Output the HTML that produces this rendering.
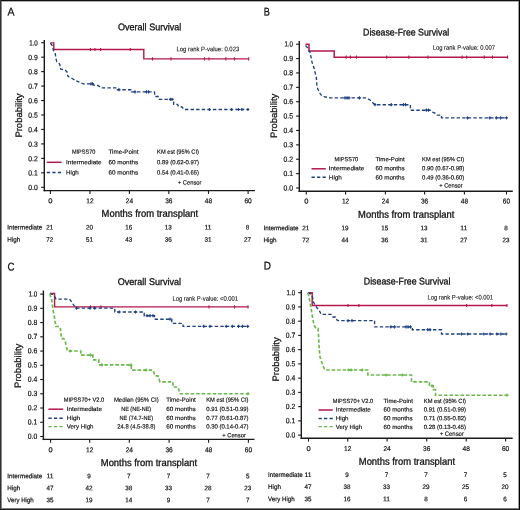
<!DOCTYPE html>
<html><head><meta charset="utf-8"><style>
html,body{margin:0;padding:0;background:#fff;}
svg{display:block;will-change:transform;font-family:"Liberation Sans",sans-serif;}
</style></head><body>
<svg width="520" height="510" viewBox="0 0 520 510">
<rect x="0" y="0" width="520" height="510" fill="#fff"/>
<text x="7.50" y="15.50" font-size="11.2" textLength="7.00" lengthAdjust="spacingAndGlyphs" fill="#111" stroke="#111" stroke-width="0.25" transform="rotate(0.05 7.50 15.50)">A</text>
<text x="118.00" y="30.25" font-size="9.7" textLength="63.30" lengthAdjust="spacingAndGlyphs" fill="#111" stroke="#111" stroke-width="0.3" transform="rotate(0.05 118.00 30.25)">Overall Survival</text>
<text x="176.50" y="51.25" font-size="6.6" textLength="62.70" lengthAdjust="spacingAndGlyphs" fill="#111" stroke="#111" stroke-width="0.1" transform="rotate(0.05 176.50 51.25)">Log rank P-value: 0.023</text>
<line x1="44.30" y1="40.00" x2="44.30" y2="191.30" stroke="#1a1a1a" stroke-width="1.4"/>
<line x1="43.60" y1="190.60" x2="255.00" y2="190.60" stroke="#1a1a1a" stroke-width="1.4"/>
<line x1="41.10" y1="42.70" x2="44.30" y2="42.70" stroke="#1a1a1a" stroke-width="1.1"/>
<text x="29.20" y="45.50" font-size="7.5" textLength="8.60" lengthAdjust="spacingAndGlyphs" fill="#111" stroke="#111" stroke-width="0.2" transform="rotate(0.05 29.20 45.50)">1.0</text>
<line x1="41.10" y1="57.16" x2="44.30" y2="57.16" stroke="#1a1a1a" stroke-width="1.1"/>
<text x="28.30" y="60.00" font-size="7.5" textLength="9.50" lengthAdjust="spacingAndGlyphs" fill="#111" stroke="#111" stroke-width="0.2" transform="rotate(0.05 28.30 60.00)">0.9</text>
<line x1="41.10" y1="71.62" x2="44.30" y2="71.62" stroke="#1a1a1a" stroke-width="1.1"/>
<text x="28.30" y="74.25" font-size="7.5" textLength="9.50" lengthAdjust="spacingAndGlyphs" fill="#111" stroke="#111" stroke-width="0.2" transform="rotate(0.05 28.30 74.25)">0.8</text>
<line x1="41.10" y1="86.08" x2="44.30" y2="86.08" stroke="#1a1a1a" stroke-width="1.1"/>
<text x="28.30" y="88.75" font-size="7.5" textLength="9.50" lengthAdjust="spacingAndGlyphs" fill="#111" stroke="#111" stroke-width="0.2" transform="rotate(0.05 28.30 88.75)">0.7</text>
<line x1="41.10" y1="100.54" x2="44.30" y2="100.54" stroke="#1a1a1a" stroke-width="1.1"/>
<text x="28.30" y="103.25" font-size="7.5" textLength="9.50" lengthAdjust="spacingAndGlyphs" fill="#111" stroke="#111" stroke-width="0.2" transform="rotate(0.05 28.30 103.25)">0.6</text>
<line x1="41.10" y1="115.00" x2="44.30" y2="115.00" stroke="#1a1a1a" stroke-width="1.1"/>
<text x="28.30" y="117.75" font-size="7.5" textLength="9.50" lengthAdjust="spacingAndGlyphs" fill="#111" stroke="#111" stroke-width="0.2" transform="rotate(0.05 28.30 117.75)">0.5</text>
<line x1="41.10" y1="129.46" x2="44.30" y2="129.46" stroke="#1a1a1a" stroke-width="1.1"/>
<text x="28.30" y="132.25" font-size="7.5" textLength="9.50" lengthAdjust="spacingAndGlyphs" fill="#111" stroke="#111" stroke-width="0.2" transform="rotate(0.05 28.30 132.25)">0.4</text>
<line x1="41.10" y1="143.92" x2="44.30" y2="143.92" stroke="#1a1a1a" stroke-width="1.1"/>
<text x="28.30" y="146.75" font-size="7.5" textLength="9.50" lengthAdjust="spacingAndGlyphs" fill="#111" stroke="#111" stroke-width="0.2" transform="rotate(0.05 28.30 146.75)">0.3</text>
<line x1="41.10" y1="158.38" x2="44.30" y2="158.38" stroke="#1a1a1a" stroke-width="1.1"/>
<text x="28.30" y="161.25" font-size="7.5" textLength="9.50" lengthAdjust="spacingAndGlyphs" fill="#111" stroke="#111" stroke-width="0.2" transform="rotate(0.05 28.30 161.25)">0.2</text>
<line x1="41.10" y1="172.84" x2="44.30" y2="172.84" stroke="#1a1a1a" stroke-width="1.1"/>
<text x="28.30" y="175.50" font-size="7.5" textLength="9.50" lengthAdjust="spacingAndGlyphs" fill="#111" stroke="#111" stroke-width="0.2" transform="rotate(0.05 28.30 175.50)">0.1</text>
<line x1="41.10" y1="187.30" x2="44.30" y2="187.30" stroke="#1a1a1a" stroke-width="1.1"/>
<text x="28.30" y="190.00" font-size="7.5" textLength="9.50" lengthAdjust="spacingAndGlyphs" fill="#111" stroke="#111" stroke-width="0.2" transform="rotate(0.05 28.30 190.00)">0.0</text>
<line x1="50.40" y1="190.60" x2="50.40" y2="193.90" stroke="#1a1a1a" stroke-width="1.1"/>
<text x="48.30" y="203.25" font-size="7.0" textLength="4.20" lengthAdjust="spacingAndGlyphs" fill="#111" stroke="#111" stroke-width="0.2" transform="rotate(0.05 48.30 203.25)">0</text>
<line x1="90.00" y1="190.60" x2="90.00" y2="193.90" stroke="#1a1a1a" stroke-width="1.1"/>
<text x="86.35" y="203.25" font-size="7.0" textLength="7.30" lengthAdjust="spacingAndGlyphs" fill="#111" stroke="#111" stroke-width="0.2" transform="rotate(0.05 86.35 203.25)">12</text>
<line x1="129.40" y1="190.60" x2="129.40" y2="193.90" stroke="#1a1a1a" stroke-width="1.1"/>
<text x="125.75" y="203.25" font-size="7.0" textLength="7.30" lengthAdjust="spacingAndGlyphs" fill="#111" stroke="#111" stroke-width="0.2" transform="rotate(0.05 125.75 203.25)">24</text>
<line x1="168.80" y1="190.60" x2="168.80" y2="193.90" stroke="#1a1a1a" stroke-width="1.1"/>
<text x="165.15" y="203.25" font-size="7.0" textLength="7.30" lengthAdjust="spacingAndGlyphs" fill="#111" stroke="#111" stroke-width="0.2" transform="rotate(0.05 165.15 203.25)">36</text>
<line x1="208.50" y1="190.60" x2="208.50" y2="193.90" stroke="#1a1a1a" stroke-width="1.1"/>
<text x="204.85" y="203.25" font-size="7.0" textLength="7.30" lengthAdjust="spacingAndGlyphs" fill="#111" stroke="#111" stroke-width="0.2" transform="rotate(0.05 204.85 203.25)">48</text>
<line x1="248.10" y1="190.60" x2="248.10" y2="193.90" stroke="#1a1a1a" stroke-width="1.1"/>
<text x="244.45" y="203.25" font-size="7.0" textLength="7.30" lengthAdjust="spacingAndGlyphs" fill="#111" stroke="#111" stroke-width="0.2" transform="rotate(0.05 244.45 203.25)">60</text>
<text x="0" y="0" font-size="9.4" textLength="44.2" lengthAdjust="spacingAndGlyphs" fill="#111" stroke="#111" stroke-width="0.25" transform="translate(22.00,137.60) rotate(-89.95)">Probability</text>
<text x="101.60" y="216.75" font-size="10.0" textLength="96.50" lengthAdjust="spacingAndGlyphs" fill="#111" stroke="#111" stroke-width="0.3" transform="rotate(0.05 101.60 216.75)">Months from transplant</text>
<text x="7.30" y="229.50" font-size="6.6" textLength="35.00" lengthAdjust="spacingAndGlyphs" fill="#111" stroke="#111" stroke-width="0.2" transform="rotate(0.05 7.30 229.50)">Intermediate</text>
<text x="46.30" y="229.50" font-size="6.6" textLength="7.00" lengthAdjust="spacingAndGlyphs" fill="#111" stroke="#111" stroke-width="0.2" transform="rotate(0.05 46.30 229.50)">21</text>
<text x="85.90" y="229.50" font-size="6.6" textLength="7.00" lengthAdjust="spacingAndGlyphs" fill="#111" stroke="#111" stroke-width="0.2" transform="rotate(0.05 85.90 229.50)">20</text>
<text x="125.30" y="229.50" font-size="6.6" textLength="7.00" lengthAdjust="spacingAndGlyphs" fill="#111" stroke="#111" stroke-width="0.2" transform="rotate(0.05 125.30 229.50)">16</text>
<text x="164.70" y="229.50" font-size="6.6" textLength="7.00" lengthAdjust="spacingAndGlyphs" fill="#111" stroke="#111" stroke-width="0.2" transform="rotate(0.05 164.70 229.50)">13</text>
<text x="204.40" y="229.50" font-size="6.6" textLength="7.00" lengthAdjust="spacingAndGlyphs" fill="#111" stroke="#111" stroke-width="0.2" transform="rotate(0.05 204.40 229.50)">11</text>
<text x="245.75" y="229.50" font-size="6.6" textLength="3.50" lengthAdjust="spacingAndGlyphs" fill="#111" stroke="#111" stroke-width="0.2" transform="rotate(0.05 245.75 229.50)">8</text>
<text x="7.30" y="241.75" font-size="6.6" textLength="12.90" lengthAdjust="spacingAndGlyphs" fill="#111" stroke="#111" stroke-width="0.2" transform="rotate(0.05 7.30 241.75)">High</text>
<text x="46.30" y="241.75" font-size="6.6" textLength="7.00" lengthAdjust="spacingAndGlyphs" fill="#111" stroke="#111" stroke-width="0.2" transform="rotate(0.05 46.30 241.75)">72</text>
<text x="85.90" y="241.75" font-size="6.6" textLength="7.00" lengthAdjust="spacingAndGlyphs" fill="#111" stroke="#111" stroke-width="0.2" transform="rotate(0.05 85.90 241.75)">51</text>
<text x="125.30" y="241.75" font-size="6.6" textLength="7.00" lengthAdjust="spacingAndGlyphs" fill="#111" stroke="#111" stroke-width="0.2" transform="rotate(0.05 125.30 241.75)">43</text>
<text x="164.70" y="241.75" font-size="6.6" textLength="7.00" lengthAdjust="spacingAndGlyphs" fill="#111" stroke="#111" stroke-width="0.2" transform="rotate(0.05 164.70 241.75)">36</text>
<text x="204.40" y="241.75" font-size="6.6" textLength="7.00" lengthAdjust="spacingAndGlyphs" fill="#111" stroke="#111" stroke-width="0.2" transform="rotate(0.05 204.40 241.75)">31</text>
<text x="244.00" y="241.75" font-size="6.6" textLength="7.00" lengthAdjust="spacingAndGlyphs" fill="#111" stroke="#111" stroke-width="0.2" transform="rotate(0.05 244.00 241.75)">27</text>
<text x="71.90" y="153.75" font-size="6.0" textLength="23.60" lengthAdjust="spacingAndGlyphs" fill="#111" stroke="#111" stroke-width="0.16" transform="rotate(0.05 71.90 153.75)">MIPSS70</text>
<text x="108.50" y="153.75" font-size="6.0" textLength="30.00" lengthAdjust="spacingAndGlyphs" fill="#111" stroke="#111" stroke-width="0.16" transform="rotate(0.05 108.50 153.75)">Time-Point</text>
<text x="157.10" y="153.75" font-size="6.0" textLength="41.90" lengthAdjust="spacingAndGlyphs" fill="#111" stroke="#111" stroke-width="0.16" transform="rotate(0.05 157.10 153.75)">KM est (95% CI)</text>
<text x="66.10" y="164.25" font-size="6.0" textLength="35.50" lengthAdjust="spacingAndGlyphs" fill="#111" stroke="#111" stroke-width="0.16" transform="rotate(0.05 66.10 164.25)">Intermediate</text>
<text x="108.50" y="164.25" font-size="6.0" textLength="29.60" lengthAdjust="spacingAndGlyphs" fill="#111" stroke="#111" stroke-width="0.16" transform="rotate(0.05 108.50 164.25)">60 months</text>
<text x="157.10" y="164.25" font-size="6.0" textLength="41.90" lengthAdjust="spacingAndGlyphs" fill="#111" stroke="#111" stroke-width="0.16" transform="rotate(0.05 157.10 164.25)">0.89 (0.62-0.97)</text>
<text x="66.10" y="174.50" font-size="6.0" textLength="12.70" lengthAdjust="spacingAndGlyphs" fill="#111" stroke="#111" stroke-width="0.16" transform="rotate(0.05 66.10 174.50)">High</text>
<text x="108.50" y="174.50" font-size="6.0" textLength="29.60" lengthAdjust="spacingAndGlyphs" fill="#111" stroke="#111" stroke-width="0.16" transform="rotate(0.05 108.50 174.50)">60 months</text>
<text x="157.10" y="174.50" font-size="6.0" textLength="41.90" lengthAdjust="spacingAndGlyphs" fill="#111" stroke="#111" stroke-width="0.16" transform="rotate(0.05 157.10 174.50)">0.54 (0.41-0.65)</text>
<text x="177.80" y="184.50" font-size="6.0" textLength="23.70" lengthAdjust="spacingAndGlyphs" fill="#111" stroke="#111" stroke-width="0.16" transform="rotate(0.05 177.80 184.50)">+ Censor</text>
<line x1="46.80" y1="162.30" x2="61.60" y2="162.30" stroke="#b3184a" stroke-width="1.5"/>
<path d="M46.8,172.5H61.6" stroke="#1f4080" stroke-width="1.35" stroke-dasharray="3.3 2.2" fill="none"/>
<path d="M50.3,42.9H53.8V49.5H143.8V58.9H248.7" fill="none" stroke="#b3184a" stroke-width="1.4"/>
<path d="M90.50,47.90v3.2M94.90,47.90v3.2M100.60,47.90v3.2M130.30,47.90v3.2M152.50,57.30v3.2M171.00,57.30v3.2M204.50,57.30v3.2M209.00,57.30v3.2M225.80,57.30v3.2M234.40,57.30v3.2M248.70,57.30v3.2" stroke="#b3184a" stroke-width="1.1" fill="none"/>
<path d="M50.3,43.3L52,45L53,49L54.1,52L55.2,53.6L56.2,59.6L56.8,61.7L59.5,63.9L60,65V68.2L61.1,69.3H63.8L65.4,70.3L67,72L67.6,73V75.7L68.6,76.8L71.9,78.4L73,79L75.6,80.6L79.4,82.2L83.2,83.8H93.5L94,85.3L98,85.5L101,87.9H116.5V89.7H131.5V91.9H154.4L155,96.5H158L159,99.4H173.7V104.3H177.5L178.5,106.5L182,107L184,109.5H248.7" fill="none" stroke="#1f4080" stroke-width="1.35" stroke-dasharray="3.4 2.2"/>
<path d="M89.60,83.80h2.8M91.10,83.80h2.8M117.60,89.70h2.8M133.60,91.90h2.8M145.10,91.90h2.8M147.10,91.90h2.8M168.90,99.40h2.8M170.60,99.40h2.8M208.00,109.50h2.8M230.20,109.50h2.8M237.20,109.50h2.8M240.40,109.50h2.8M246.50,109.50h2.8" stroke="#1f4080" stroke-width="1.22" fill="none"/>
<path d="M91.00,82.20v3.2M92.50,82.20v3.2M119.00,88.10v3.2M135.00,90.30v3.2M146.50,90.30v3.2M148.50,90.30v3.2M170.30,97.80v3.2M172.00,97.80v3.2M209.40,107.90v3.2M231.60,107.90v3.2M238.60,107.90v3.2M241.80,107.90v3.2M247.90,107.90v3.2" stroke="#1f4080" stroke-width="1.1" fill="none"/>
<text x="263.80" y="15.50" font-size="11.2" textLength="6.10" lengthAdjust="spacingAndGlyphs" fill="#111" stroke="#111" stroke-width="0.25" transform="rotate(0.05 263.80 15.50)">B</text>
<text x="363.10" y="35.50" font-size="9.7" textLength="86.10" lengthAdjust="spacingAndGlyphs" fill="#111" stroke="#111" stroke-width="0.3" transform="rotate(0.05 363.10 35.50)">Disease-Free Survival</text>
<text x="432.70" y="49.75" font-size="6.6" textLength="62.30" lengthAdjust="spacingAndGlyphs" fill="#111" stroke="#111" stroke-width="0.1" transform="rotate(0.05 432.70 49.75)">Log rank P-value: 0.007</text>
<line x1="299.30" y1="41.00" x2="299.30" y2="191.90" stroke="#1a1a1a" stroke-width="1.4"/>
<line x1="298.60" y1="191.20" x2="512.80" y2="191.20" stroke="#1a1a1a" stroke-width="1.4"/>
<line x1="296.10" y1="44.20" x2="299.30" y2="44.20" stroke="#1a1a1a" stroke-width="1.1"/>
<text x="284.40" y="46.50" font-size="7.5" textLength="8.60" lengthAdjust="spacingAndGlyphs" fill="#111" stroke="#111" stroke-width="0.2" transform="rotate(0.05 284.40 46.50)">1.0</text>
<line x1="296.10" y1="58.58" x2="299.30" y2="58.58" stroke="#1a1a1a" stroke-width="1.1"/>
<text x="283.50" y="61.00" font-size="7.5" textLength="9.50" lengthAdjust="spacingAndGlyphs" fill="#111" stroke="#111" stroke-width="0.2" transform="rotate(0.05 283.50 61.00)">0.9</text>
<line x1="296.10" y1="72.96" x2="299.30" y2="72.96" stroke="#1a1a1a" stroke-width="1.1"/>
<text x="283.50" y="75.25" font-size="7.5" textLength="9.50" lengthAdjust="spacingAndGlyphs" fill="#111" stroke="#111" stroke-width="0.2" transform="rotate(0.05 283.50 75.25)">0.8</text>
<line x1="296.10" y1="87.34" x2="299.30" y2="87.34" stroke="#1a1a1a" stroke-width="1.1"/>
<text x="283.50" y="89.75" font-size="7.5" textLength="9.50" lengthAdjust="spacingAndGlyphs" fill="#111" stroke="#111" stroke-width="0.2" transform="rotate(0.05 283.50 89.75)">0.7</text>
<line x1="296.10" y1="101.72" x2="299.30" y2="101.72" stroke="#1a1a1a" stroke-width="1.1"/>
<text x="283.50" y="104.00" font-size="7.5" textLength="9.50" lengthAdjust="spacingAndGlyphs" fill="#111" stroke="#111" stroke-width="0.2" transform="rotate(0.05 283.50 104.00)">0.6</text>
<line x1="296.10" y1="116.10" x2="299.30" y2="116.10" stroke="#1a1a1a" stroke-width="1.1"/>
<text x="283.50" y="118.50" font-size="7.5" textLength="9.50" lengthAdjust="spacingAndGlyphs" fill="#111" stroke="#111" stroke-width="0.2" transform="rotate(0.05 283.50 118.50)">0.5</text>
<line x1="296.10" y1="130.48" x2="299.30" y2="130.48" stroke="#1a1a1a" stroke-width="1.1"/>
<text x="283.50" y="133.00" font-size="7.5" textLength="9.50" lengthAdjust="spacingAndGlyphs" fill="#111" stroke="#111" stroke-width="0.2" transform="rotate(0.05 283.50 133.00)">0.4</text>
<line x1="296.10" y1="144.86" x2="299.30" y2="144.86" stroke="#1a1a1a" stroke-width="1.1"/>
<text x="283.50" y="147.25" font-size="7.5" textLength="9.50" lengthAdjust="spacingAndGlyphs" fill="#111" stroke="#111" stroke-width="0.2" transform="rotate(0.05 283.50 147.25)">0.3</text>
<line x1="296.10" y1="159.24" x2="299.30" y2="159.24" stroke="#1a1a1a" stroke-width="1.1"/>
<text x="283.50" y="161.75" font-size="7.5" textLength="9.50" lengthAdjust="spacingAndGlyphs" fill="#111" stroke="#111" stroke-width="0.2" transform="rotate(0.05 283.50 161.75)">0.2</text>
<line x1="296.10" y1="173.62" x2="299.30" y2="173.62" stroke="#1a1a1a" stroke-width="1.1"/>
<text x="283.50" y="176.00" font-size="7.5" textLength="9.50" lengthAdjust="spacingAndGlyphs" fill="#111" stroke="#111" stroke-width="0.2" transform="rotate(0.05 283.50 176.00)">0.1</text>
<line x1="296.10" y1="188.00" x2="299.30" y2="188.00" stroke="#1a1a1a" stroke-width="1.1"/>
<text x="283.50" y="190.50" font-size="7.5" textLength="9.50" lengthAdjust="spacingAndGlyphs" fill="#111" stroke="#111" stroke-width="0.2" transform="rotate(0.05 283.50 190.50)">0.0</text>
<line x1="306.30" y1="191.20" x2="306.30" y2="194.50" stroke="#1a1a1a" stroke-width="1.1"/>
<text x="304.20" y="203.50" font-size="7.0" textLength="4.20" lengthAdjust="spacingAndGlyphs" fill="#111" stroke="#111" stroke-width="0.2" transform="rotate(0.05 304.20 203.50)">0</text>
<line x1="345.60" y1="191.20" x2="345.60" y2="194.50" stroke="#1a1a1a" stroke-width="1.1"/>
<text x="341.95" y="203.50" font-size="7.0" textLength="7.30" lengthAdjust="spacingAndGlyphs" fill="#111" stroke="#111" stroke-width="0.2" transform="rotate(0.05 341.95 203.50)">12</text>
<line x1="385.40" y1="191.20" x2="385.40" y2="194.50" stroke="#1a1a1a" stroke-width="1.1"/>
<text x="381.75" y="203.50" font-size="7.0" textLength="7.30" lengthAdjust="spacingAndGlyphs" fill="#111" stroke="#111" stroke-width="0.2" transform="rotate(0.05 381.75 203.50)">24</text>
<line x1="424.60" y1="191.20" x2="424.60" y2="194.50" stroke="#1a1a1a" stroke-width="1.1"/>
<text x="420.95" y="203.50" font-size="7.0" textLength="7.30" lengthAdjust="spacingAndGlyphs" fill="#111" stroke="#111" stroke-width="0.2" transform="rotate(0.05 420.95 203.50)">36</text>
<line x1="464.40" y1="191.20" x2="464.40" y2="194.50" stroke="#1a1a1a" stroke-width="1.1"/>
<text x="460.75" y="203.50" font-size="7.0" textLength="7.30" lengthAdjust="spacingAndGlyphs" fill="#111" stroke="#111" stroke-width="0.2" transform="rotate(0.05 460.75 203.50)">48</text>
<line x1="506.50" y1="191.20" x2="506.50" y2="194.50" stroke="#1a1a1a" stroke-width="1.1"/>
<text x="502.85" y="203.50" font-size="7.0" textLength="7.30" lengthAdjust="spacingAndGlyphs" fill="#111" stroke="#111" stroke-width="0.2" transform="rotate(0.05 502.85 203.50)">60</text>
<text x="0" y="0" font-size="9.4" textLength="44.2" lengthAdjust="spacingAndGlyphs" fill="#111" stroke="#111" stroke-width="0.25" transform="translate(277.00,137.90) rotate(-89.95)">Probability</text>
<text x="358.10" y="217.75" font-size="10.0" textLength="96.20" lengthAdjust="spacingAndGlyphs" fill="#111" stroke="#111" stroke-width="0.3" transform="rotate(0.05 358.10 217.75)">Months from transplant</text>
<text x="263.50" y="230.25" font-size="6.6" textLength="35.00" lengthAdjust="spacingAndGlyphs" fill="#111" stroke="#111" stroke-width="0.2" transform="rotate(0.05 263.50 230.25)">Intermediate</text>
<text x="302.20" y="230.25" font-size="6.6" textLength="7.00" lengthAdjust="spacingAndGlyphs" fill="#111" stroke="#111" stroke-width="0.2" transform="rotate(0.05 302.20 230.25)">21</text>
<text x="341.50" y="230.25" font-size="6.6" textLength="7.00" lengthAdjust="spacingAndGlyphs" fill="#111" stroke="#111" stroke-width="0.2" transform="rotate(0.05 341.50 230.25)">19</text>
<text x="381.30" y="230.25" font-size="6.6" textLength="7.00" lengthAdjust="spacingAndGlyphs" fill="#111" stroke="#111" stroke-width="0.2" transform="rotate(0.05 381.30 230.25)">15</text>
<text x="420.50" y="230.25" font-size="6.6" textLength="7.00" lengthAdjust="spacingAndGlyphs" fill="#111" stroke="#111" stroke-width="0.2" transform="rotate(0.05 420.50 230.25)">13</text>
<text x="460.30" y="230.25" font-size="6.6" textLength="7.00" lengthAdjust="spacingAndGlyphs" fill="#111" stroke="#111" stroke-width="0.2" transform="rotate(0.05 460.30 230.25)">11</text>
<text x="504.15" y="230.25" font-size="6.6" textLength="3.50" lengthAdjust="spacingAndGlyphs" fill="#111" stroke="#111" stroke-width="0.2" transform="rotate(0.05 504.15 230.25)">8</text>
<text x="263.50" y="242.25" font-size="6.6" textLength="13.00" lengthAdjust="spacingAndGlyphs" fill="#111" stroke="#111" stroke-width="0.2" transform="rotate(0.05 263.50 242.25)">High</text>
<text x="302.20" y="242.25" font-size="6.6" textLength="7.00" lengthAdjust="spacingAndGlyphs" fill="#111" stroke="#111" stroke-width="0.2" transform="rotate(0.05 302.20 242.25)">72</text>
<text x="341.50" y="242.25" font-size="6.6" textLength="7.00" lengthAdjust="spacingAndGlyphs" fill="#111" stroke="#111" stroke-width="0.2" transform="rotate(0.05 341.50 242.25)">44</text>
<text x="381.30" y="242.25" font-size="6.6" textLength="7.00" lengthAdjust="spacingAndGlyphs" fill="#111" stroke="#111" stroke-width="0.2" transform="rotate(0.05 381.30 242.25)">36</text>
<text x="420.50" y="242.25" font-size="6.6" textLength="7.00" lengthAdjust="spacingAndGlyphs" fill="#111" stroke="#111" stroke-width="0.2" transform="rotate(0.05 420.50 242.25)">31</text>
<text x="460.30" y="242.25" font-size="6.6" textLength="7.00" lengthAdjust="spacingAndGlyphs" fill="#111" stroke="#111" stroke-width="0.2" transform="rotate(0.05 460.30 242.25)">27</text>
<text x="502.40" y="242.25" font-size="6.6" textLength="7.00" lengthAdjust="spacingAndGlyphs" fill="#111" stroke="#111" stroke-width="0.2" transform="rotate(0.05 502.40 242.25)">23</text>
<text x="334.50" y="161.25" font-size="6.0" textLength="23.60" lengthAdjust="spacingAndGlyphs" fill="#111" stroke="#111" stroke-width="0.16" transform="rotate(0.05 334.50 161.25)">MIPSS70</text>
<text x="375.50" y="161.25" font-size="6.0" textLength="29.20" lengthAdjust="spacingAndGlyphs" fill="#111" stroke="#111" stroke-width="0.16" transform="rotate(0.05 375.50 161.25)">Time-Point</text>
<text x="422.10" y="161.25" font-size="6.0" textLength="42.20" lengthAdjust="spacingAndGlyphs" fill="#111" stroke="#111" stroke-width="0.16" transform="rotate(0.05 422.10 161.25)">KM est (95% CI)</text>
<text x="328.80" y="170.25" font-size="6.0" textLength="35.40" lengthAdjust="spacingAndGlyphs" fill="#111" stroke="#111" stroke-width="0.16" transform="rotate(0.05 328.80 170.25)">Intermediate</text>
<text x="375.50" y="170.25" font-size="6.0" textLength="29.20" lengthAdjust="spacingAndGlyphs" fill="#111" stroke="#111" stroke-width="0.16" transform="rotate(0.05 375.50 170.25)">60 months</text>
<text x="422.10" y="170.25" font-size="6.0" textLength="42.20" lengthAdjust="spacingAndGlyphs" fill="#111" stroke="#111" stroke-width="0.16" transform="rotate(0.05 422.10 170.25)">0.90 (0.67-0.98)</text>
<text x="328.80" y="179.50" font-size="6.0" textLength="13.10" lengthAdjust="spacingAndGlyphs" fill="#111" stroke="#111" stroke-width="0.16" transform="rotate(0.05 328.80 179.50)">High</text>
<text x="375.50" y="179.50" font-size="6.0" textLength="29.20" lengthAdjust="spacingAndGlyphs" fill="#111" stroke="#111" stroke-width="0.16" transform="rotate(0.05 375.50 179.50)">60 months</text>
<text x="422.10" y="179.50" font-size="6.0" textLength="42.20" lengthAdjust="spacingAndGlyphs" fill="#111" stroke="#111" stroke-width="0.16" transform="rotate(0.05 422.10 179.50)">0.49 (0.36-0.60)</text>
<text x="439.20" y="187.50" font-size="6.0" textLength="23.50" lengthAdjust="spacingAndGlyphs" fill="#111" stroke="#111" stroke-width="0.16" transform="rotate(0.05 439.20 187.50)">+ Censor</text>
<line x1="311.50" y1="168.80" x2="325.80" y2="168.80" stroke="#b3184a" stroke-width="1.5"/>
<path d="M311.5,177.2H325.8" stroke="#1f4080" stroke-width="1.35" stroke-dasharray="3.3 2.2" fill="none"/>
<path d="M305.5,44.2H309V50.9H334.2V57.2H508" fill="none" stroke="#b3184a" stroke-width="1.5"/>
<path d="M346.20,55.60v3.2M350.40,55.60v3.2M356.50,55.60v3.2M386.70,55.60v3.2M408.80,55.60v3.2M427.90,55.60v3.2M462.10,55.60v3.2M466.70,55.60v3.2M484.20,55.60v3.2M492.50,55.60v3.2M507.50,55.60v3.2" stroke="#b3184a" stroke-width="1.1" fill="none"/>
<path d="M305.5,45.5L308,48L309,51L310,52L312,62L314,68L316.4,78L317,87.3L320.4,94.2L323,96.5L330,97.8H366.2L370,100L373,103L375,104.7H410.4V110.2H430.3L432,112L435,113L437,115.1H441.5V117.8H507" fill="none" stroke="#1f4080" stroke-width="1.35" stroke-dasharray="3.4 2.2"/>
<path d="M343.60,97.80h2.8M345.60,97.80h2.8M347.60,97.80h2.8M358.10,97.80h2.8M373.60,104.70h2.8M389.90,104.70h2.8M402.10,104.70h2.8M404.10,104.70h2.8M425.00,110.20h2.8M427.10,110.20h2.8M466.10,117.80h2.8M488.40,117.80h2.8M494.90,117.80h2.8M499.20,117.80h2.8M505.10,117.80h2.8" stroke="#1f4080" stroke-width="1.22" fill="none"/>
<path d="M345.00,96.20v3.2M347.00,96.20v3.2M349.00,96.20v3.2M359.50,96.20v3.2M375.00,103.10v3.2M391.30,103.10v3.2M403.50,103.10v3.2M405.50,103.10v3.2M426.40,108.60v3.2M428.50,108.60v3.2M467.50,116.20v3.2M489.80,116.20v3.2M496.30,116.20v3.2M500.60,116.20v3.2M506.50,116.20v3.2" stroke="#1f4080" stroke-width="1.1" fill="none"/>
<text x="7.40" y="270.50" font-size="11.2" textLength="7.00" lengthAdjust="spacingAndGlyphs" fill="#111" stroke="#111" stroke-width="0.25" transform="rotate(0.05 7.40 270.50)">C</text>
<text x="117.70" y="285.00" font-size="9.7" textLength="63.40" lengthAdjust="spacingAndGlyphs" fill="#111" stroke="#111" stroke-width="0.3" transform="rotate(0.05 117.70 285.00)">Overall Survival</text>
<text x="172.40" y="300.75" font-size="6.6" textLength="65.70" lengthAdjust="spacingAndGlyphs" fill="#111" stroke="#111" stroke-width="0.1" transform="rotate(0.05 172.40 300.75)">Log rank P-value: &lt;0.001</text>
<line x1="43.40" y1="290.50" x2="43.40" y2="440.10" stroke="#1a1a1a" stroke-width="1.4"/>
<line x1="42.70" y1="439.40" x2="254.50" y2="439.40" stroke="#1a1a1a" stroke-width="1.4"/>
<line x1="40.20" y1="294.10" x2="43.40" y2="294.10" stroke="#1a1a1a" stroke-width="1.1"/>
<text x="28.70" y="296.50" font-size="7.5" textLength="8.60" lengthAdjust="spacingAndGlyphs" fill="#111" stroke="#111" stroke-width="0.2" transform="rotate(0.05 28.70 296.50)">1.0</text>
<line x1="40.20" y1="308.34" x2="43.40" y2="308.34" stroke="#1a1a1a" stroke-width="1.1"/>
<text x="27.80" y="310.75" font-size="7.5" textLength="9.50" lengthAdjust="spacingAndGlyphs" fill="#111" stroke="#111" stroke-width="0.2" transform="rotate(0.05 27.80 310.75)">0.9</text>
<line x1="40.20" y1="322.58" x2="43.40" y2="322.58" stroke="#1a1a1a" stroke-width="1.1"/>
<text x="27.80" y="325.00" font-size="7.5" textLength="9.50" lengthAdjust="spacingAndGlyphs" fill="#111" stroke="#111" stroke-width="0.2" transform="rotate(0.05 27.80 325.00)">0.8</text>
<line x1="40.20" y1="336.82" x2="43.40" y2="336.82" stroke="#1a1a1a" stroke-width="1.1"/>
<text x="27.80" y="339.00" font-size="7.5" textLength="9.50" lengthAdjust="spacingAndGlyphs" fill="#111" stroke="#111" stroke-width="0.2" transform="rotate(0.05 27.80 339.00)">0.7</text>
<line x1="40.20" y1="351.06" x2="43.40" y2="351.06" stroke="#1a1a1a" stroke-width="1.1"/>
<text x="27.80" y="353.25" font-size="7.5" textLength="9.50" lengthAdjust="spacingAndGlyphs" fill="#111" stroke="#111" stroke-width="0.2" transform="rotate(0.05 27.80 353.25)">0.6</text>
<line x1="40.20" y1="365.30" x2="43.40" y2="365.30" stroke="#1a1a1a" stroke-width="1.1"/>
<text x="27.80" y="367.50" font-size="7.5" textLength="9.50" lengthAdjust="spacingAndGlyphs" fill="#111" stroke="#111" stroke-width="0.2" transform="rotate(0.05 27.80 367.50)">0.5</text>
<line x1="40.20" y1="379.54" x2="43.40" y2="379.54" stroke="#1a1a1a" stroke-width="1.1"/>
<text x="27.80" y="381.75" font-size="7.5" textLength="9.50" lengthAdjust="spacingAndGlyphs" fill="#111" stroke="#111" stroke-width="0.2" transform="rotate(0.05 27.80 381.75)">0.4</text>
<line x1="40.20" y1="393.78" x2="43.40" y2="393.78" stroke="#1a1a1a" stroke-width="1.1"/>
<text x="27.80" y="396.00" font-size="7.5" textLength="9.50" lengthAdjust="spacingAndGlyphs" fill="#111" stroke="#111" stroke-width="0.2" transform="rotate(0.05 27.80 396.00)">0.3</text>
<line x1="40.20" y1="408.02" x2="43.40" y2="408.02" stroke="#1a1a1a" stroke-width="1.1"/>
<text x="27.80" y="410.25" font-size="7.5" textLength="9.50" lengthAdjust="spacingAndGlyphs" fill="#111" stroke="#111" stroke-width="0.2" transform="rotate(0.05 27.80 410.25)">0.2</text>
<line x1="40.20" y1="422.26" x2="43.40" y2="422.26" stroke="#1a1a1a" stroke-width="1.1"/>
<text x="27.80" y="424.50" font-size="7.5" textLength="9.50" lengthAdjust="spacingAndGlyphs" fill="#111" stroke="#111" stroke-width="0.2" transform="rotate(0.05 27.80 424.50)">0.1</text>
<line x1="40.20" y1="436.50" x2="43.40" y2="436.50" stroke="#1a1a1a" stroke-width="1.1"/>
<text x="27.80" y="438.75" font-size="7.5" textLength="9.50" lengthAdjust="spacingAndGlyphs" fill="#111" stroke="#111" stroke-width="0.2" transform="rotate(0.05 27.80 438.75)">0.0</text>
<line x1="50.60" y1="439.40" x2="50.60" y2="442.70" stroke="#1a1a1a" stroke-width="1.1"/>
<text x="48.50" y="452.25" font-size="7.0" textLength="4.20" lengthAdjust="spacingAndGlyphs" fill="#111" stroke="#111" stroke-width="0.2" transform="rotate(0.05 48.50 452.25)">0</text>
<line x1="89.70" y1="439.40" x2="89.70" y2="442.70" stroke="#1a1a1a" stroke-width="1.1"/>
<text x="86.05" y="452.25" font-size="7.0" textLength="7.30" lengthAdjust="spacingAndGlyphs" fill="#111" stroke="#111" stroke-width="0.2" transform="rotate(0.05 86.05 452.25)">12</text>
<line x1="129.30" y1="439.40" x2="129.30" y2="442.70" stroke="#1a1a1a" stroke-width="1.1"/>
<text x="125.65" y="452.25" font-size="7.0" textLength="7.30" lengthAdjust="spacingAndGlyphs" fill="#111" stroke="#111" stroke-width="0.2" transform="rotate(0.05 125.65 452.25)">24</text>
<line x1="169.10" y1="439.40" x2="169.10" y2="442.70" stroke="#1a1a1a" stroke-width="1.1"/>
<text x="165.45" y="452.25" font-size="7.0" textLength="7.30" lengthAdjust="spacingAndGlyphs" fill="#111" stroke="#111" stroke-width="0.2" transform="rotate(0.05 165.45 452.25)">36</text>
<line x1="208.60" y1="439.40" x2="208.60" y2="442.70" stroke="#1a1a1a" stroke-width="1.1"/>
<text x="204.95" y="452.25" font-size="7.0" textLength="7.30" lengthAdjust="spacingAndGlyphs" fill="#111" stroke="#111" stroke-width="0.2" transform="rotate(0.05 204.95 452.25)">48</text>
<line x1="248.40" y1="439.40" x2="248.40" y2="442.70" stroke="#1a1a1a" stroke-width="1.1"/>
<text x="244.75" y="452.25" font-size="7.0" textLength="7.30" lengthAdjust="spacingAndGlyphs" fill="#111" stroke="#111" stroke-width="0.2" transform="rotate(0.05 244.75 452.25)">60</text>
<text x="0" y="0" font-size="9.4" textLength="44.2" lengthAdjust="spacingAndGlyphs" fill="#111" stroke="#111" stroke-width="0.25" transform="translate(21.10,387.90) rotate(-89.95)">Probability</text>
<text x="100.80" y="466.00" font-size="10.0" textLength="96.20" lengthAdjust="spacingAndGlyphs" fill="#111" stroke="#111" stroke-width="0.3" transform="rotate(0.05 100.80 466.00)">Months from transplant</text>
<text x="7.30" y="478.25" font-size="6.6" textLength="35.00" lengthAdjust="spacingAndGlyphs" fill="#111" stroke="#111" stroke-width="0.2" transform="rotate(0.05 7.30 478.25)">Intermediate</text>
<text x="46.50" y="478.25" font-size="6.6" textLength="7.00" lengthAdjust="spacingAndGlyphs" fill="#111" stroke="#111" stroke-width="0.2" transform="rotate(0.05 46.50 478.25)">11</text>
<text x="87.35" y="478.25" font-size="6.6" textLength="3.50" lengthAdjust="spacingAndGlyphs" fill="#111" stroke="#111" stroke-width="0.2" transform="rotate(0.05 87.35 478.25)">9</text>
<text x="126.95" y="478.25" font-size="6.6" textLength="3.50" lengthAdjust="spacingAndGlyphs" fill="#111" stroke="#111" stroke-width="0.2" transform="rotate(0.05 126.95 478.25)">7</text>
<text x="166.75" y="478.25" font-size="6.6" textLength="3.50" lengthAdjust="spacingAndGlyphs" fill="#111" stroke="#111" stroke-width="0.2" transform="rotate(0.05 166.75 478.25)">7</text>
<text x="206.25" y="478.25" font-size="6.6" textLength="3.50" lengthAdjust="spacingAndGlyphs" fill="#111" stroke="#111" stroke-width="0.2" transform="rotate(0.05 206.25 478.25)">7</text>
<text x="246.05" y="478.25" font-size="6.6" textLength="3.50" lengthAdjust="spacingAndGlyphs" fill="#111" stroke="#111" stroke-width="0.2" transform="rotate(0.05 246.05 478.25)">5</text>
<text x="7.30" y="490.25" font-size="6.6" textLength="12.90" lengthAdjust="spacingAndGlyphs" fill="#111" stroke="#111" stroke-width="0.2" transform="rotate(0.05 7.30 490.25)">High</text>
<text x="46.50" y="490.25" font-size="6.6" textLength="7.00" lengthAdjust="spacingAndGlyphs" fill="#111" stroke="#111" stroke-width="0.2" transform="rotate(0.05 46.50 490.25)">47</text>
<text x="85.60" y="490.25" font-size="6.6" textLength="7.00" lengthAdjust="spacingAndGlyphs" fill="#111" stroke="#111" stroke-width="0.2" transform="rotate(0.05 85.60 490.25)">42</text>
<text x="125.20" y="490.25" font-size="6.6" textLength="7.00" lengthAdjust="spacingAndGlyphs" fill="#111" stroke="#111" stroke-width="0.2" transform="rotate(0.05 125.20 490.25)">38</text>
<text x="165.00" y="490.25" font-size="6.6" textLength="7.00" lengthAdjust="spacingAndGlyphs" fill="#111" stroke="#111" stroke-width="0.2" transform="rotate(0.05 165.00 490.25)">33</text>
<text x="204.50" y="490.25" font-size="6.6" textLength="7.00" lengthAdjust="spacingAndGlyphs" fill="#111" stroke="#111" stroke-width="0.2" transform="rotate(0.05 204.50 490.25)">28</text>
<text x="244.30" y="490.25" font-size="6.6" textLength="7.00" lengthAdjust="spacingAndGlyphs" fill="#111" stroke="#111" stroke-width="0.2" transform="rotate(0.05 244.30 490.25)">23</text>
<text x="7.30" y="502.25" font-size="6.6" textLength="26.40" lengthAdjust="spacingAndGlyphs" fill="#111" stroke="#111" stroke-width="0.2" transform="rotate(0.05 7.30 502.25)">Very High</text>
<text x="46.50" y="502.25" font-size="6.6" textLength="7.00" lengthAdjust="spacingAndGlyphs" fill="#111" stroke="#111" stroke-width="0.2" transform="rotate(0.05 46.50 502.25)">35</text>
<text x="85.60" y="502.25" font-size="6.6" textLength="7.00" lengthAdjust="spacingAndGlyphs" fill="#111" stroke="#111" stroke-width="0.2" transform="rotate(0.05 85.60 502.25)">19</text>
<text x="125.20" y="502.25" font-size="6.6" textLength="7.00" lengthAdjust="spacingAndGlyphs" fill="#111" stroke="#111" stroke-width="0.2" transform="rotate(0.05 125.20 502.25)">14</text>
<text x="166.75" y="502.25" font-size="6.6" textLength="3.50" lengthAdjust="spacingAndGlyphs" fill="#111" stroke="#111" stroke-width="0.2" transform="rotate(0.05 166.75 502.25)">9</text>
<text x="206.25" y="502.25" font-size="6.6" textLength="3.50" lengthAdjust="spacingAndGlyphs" fill="#111" stroke="#111" stroke-width="0.2" transform="rotate(0.05 206.25 502.25)">7</text>
<text x="246.05" y="502.25" font-size="6.6" textLength="3.50" lengthAdjust="spacingAndGlyphs" fill="#111" stroke="#111" stroke-width="0.2" transform="rotate(0.05 246.05 502.25)">7</text>
<text x="63.80" y="401.75" font-size="6.0" textLength="40.40" lengthAdjust="spacingAndGlyphs" fill="#111" stroke="#111" stroke-width="0.16" transform="rotate(0.05 63.80 401.75)">MIPSS70+ V2.0</text>
<text x="113.90" y="401.75" font-size="6.0" textLength="44.90" lengthAdjust="spacingAndGlyphs" fill="#111" stroke="#111" stroke-width="0.16" transform="rotate(0.05 113.90 401.75)">Median (95% CI)</text>
<text x="166.20" y="401.75" font-size="6.0" textLength="29.60" lengthAdjust="spacingAndGlyphs" fill="#111" stroke="#111" stroke-width="0.16" transform="rotate(0.05 166.20 401.75)">Time-Point</text>
<text x="206.20" y="401.75" font-size="6.0" textLength="42.30" lengthAdjust="spacingAndGlyphs" fill="#111" stroke="#111" stroke-width="0.16" transform="rotate(0.05 206.20 401.75)">KM est (95% CI)</text>
<text x="66.80" y="411.00" font-size="6.0" textLength="35.10" lengthAdjust="spacingAndGlyphs" fill="#111" stroke="#111" stroke-width="0.16" transform="rotate(0.05 66.80 411.00)">Intermediate</text>
<text x="121.20" y="411.00" font-size="6.0" textLength="30.00" lengthAdjust="spacingAndGlyphs" fill="#111" stroke="#111" stroke-width="0.16" transform="rotate(0.05 121.20 411.00)">NE (NE-NE)</text>
<text x="166.20" y="411.00" font-size="6.0" textLength="29.60" lengthAdjust="spacingAndGlyphs" fill="#111" stroke="#111" stroke-width="0.16" transform="rotate(0.05 166.20 411.00)">60 months</text>
<text x="206.20" y="411.00" font-size="6.0" textLength="42.30" lengthAdjust="spacingAndGlyphs" fill="#111" stroke="#111" stroke-width="0.16" transform="rotate(0.05 206.20 411.00)">0.91 (0.51-0.99)</text>
<text x="66.80" y="420.00" font-size="6.0" textLength="13.30" lengthAdjust="spacingAndGlyphs" fill="#111" stroke="#111" stroke-width="0.16" transform="rotate(0.05 66.80 420.00)">High</text>
<text x="119.60" y="420.00" font-size="6.0" textLength="33.40" lengthAdjust="spacingAndGlyphs" fill="#111" stroke="#111" stroke-width="0.16" transform="rotate(0.05 119.60 420.00)">NE (74.7-NE)</text>
<text x="166.20" y="420.00" font-size="6.0" textLength="29.60" lengthAdjust="spacingAndGlyphs" fill="#111" stroke="#111" stroke-width="0.16" transform="rotate(0.05 166.20 420.00)">60 months</text>
<text x="206.20" y="420.00" font-size="6.0" textLength="42.30" lengthAdjust="spacingAndGlyphs" fill="#111" stroke="#111" stroke-width="0.16" transform="rotate(0.05 206.20 420.00)">0.77 (0.61-0.87)</text>
<text x="66.80" y="428.50" font-size="6.0" textLength="26.70" lengthAdjust="spacingAndGlyphs" fill="#111" stroke="#111" stroke-width="0.16" transform="rotate(0.05 66.80 428.50)">Very High</text>
<text x="117.30" y="428.50" font-size="6.0" textLength="38.20" lengthAdjust="spacingAndGlyphs" fill="#111" stroke="#111" stroke-width="0.16" transform="rotate(0.05 117.30 428.50)">24.8 (4.5-38.8)</text>
<text x="166.20" y="428.50" font-size="6.0" textLength="29.60" lengthAdjust="spacingAndGlyphs" fill="#111" stroke="#111" stroke-width="0.16" transform="rotate(0.05 166.20 428.50)">60 months</text>
<text x="206.20" y="428.50" font-size="6.0" textLength="42.30" lengthAdjust="spacingAndGlyphs" fill="#111" stroke="#111" stroke-width="0.16" transform="rotate(0.05 206.20 428.50)">0.30 (0.14-0.47)</text>
<text x="222.30" y="437.25" font-size="6.0" textLength="23.50" lengthAdjust="spacingAndGlyphs" fill="#111" stroke="#111" stroke-width="0.16" transform="rotate(0.05 222.30 437.25)">+ Censor</text>
<line x1="48.40" y1="409.20" x2="63.20" y2="409.20" stroke="#b3184a" stroke-width="1.5"/>
<path d="M48.4,418.2H63.2" stroke="#1f4080" stroke-width="1.35" stroke-dasharray="3.3 2.2" fill="none"/>
<path d="M48.4,426.6H63.2" stroke="#6ab84a" stroke-width="1.35" stroke-dasharray="3.3 2.2" fill="none"/>
<path d="M49.9,293.5H54.6V306.9H248.4" fill="none" stroke="#b3184a" stroke-width="1.4"/>
<path d="M90.60,305.30v3.2M100.90,305.30v3.2M209.00,305.30v3.2M234.60,305.30v3.2M248.00,305.30v3.2" stroke="#b3184a" stroke-width="1.1" fill="none"/>
<path d="M49.9,293.5L52,294L54.6,296.3L56,299.1H69.6L72,302.5L73.5,304.9L75.5,307L76,308.1H114.8V312H144.2V315.7H154.5V319.2H171.8V323.4H183V326.3H249" fill="none" stroke="#1f4080" stroke-width="1.35" stroke-dasharray="3.4 2.2"/>
<path d="M75.10,308.10h2.8M88.60,308.10h2.8M93.30,308.10h2.8M117.80,312.00h2.8M134.10,312.00h2.8M145.60,315.70h2.8M148.60,315.70h2.8M151.60,315.70h2.8M168.60,319.20h2.8M202.40,326.30h2.8M208.60,326.30h2.8M224.80,326.30h2.8M230.90,326.30h2.8M237.10,326.30h2.8M240.90,326.30h2.8M246.30,326.30h2.8" stroke="#1f4080" stroke-width="1.22" fill="none"/>
<path d="M76.50,306.50v3.2M90.00,306.50v3.2M94.70,306.50v3.2M119.20,310.40v3.2M135.50,310.40v3.2M147.00,314.10v3.2M150.00,314.10v3.2M153.00,314.10v3.2M170.00,317.60v3.2M203.80,324.70v3.2M210.00,324.70v3.2M226.20,324.70v3.2M232.30,324.70v3.2M238.50,324.70v3.2M242.30,324.70v3.2M247.70,324.70v3.2" stroke="#1f4080" stroke-width="1.1" fill="none"/>
<path d="M49.9,293.8L50.5,296L51.8,300L53,310L54.6,318L55.8,326.5H59.5L60.2,327.5L61,334L61.5,338.6H63.5L65,340L66,345L67.5,351H80.8V355.1H92.9V359.8H98.8V364.9H131.3V370.1H153L155,375.8H158L160,381.8H172.9L173,387H178L180,393.7H248.4" fill="none" stroke="#6ab84a" stroke-width="1.65" stroke-dasharray="3.5 2"/>
<path d="M68.80,351.00h2.8M89.20,355.10h2.8M100.40,364.90h2.8M129.60,364.90h2.8M144.60,370.10h2.8M246.60,393.70h2.8" stroke="#6ab84a" stroke-width="1.48" fill="none"/>
<path d="M70.20,349.40v3.2M90.60,353.50v3.2M101.80,363.30v3.2M131.00,363.30v3.2M146.00,368.50v3.2M248.00,392.10v3.2" stroke="#6ab84a" stroke-width="1.1" fill="none"/>
<text x="263.80" y="269.50" font-size="11.2" textLength="7.20" lengthAdjust="spacingAndGlyphs" fill="#111" stroke="#111" stroke-width="0.25" transform="rotate(0.05 263.80 269.50)">D</text>
<text x="363.80" y="284.50" font-size="9.7" textLength="86.60" lengthAdjust="spacingAndGlyphs" fill="#111" stroke="#111" stroke-width="0.3" transform="rotate(0.05 363.80 284.50)">Disease-Free Survival</text>
<text x="427.40" y="299.50" font-size="6.6" textLength="65.70" lengthAdjust="spacingAndGlyphs" fill="#111" stroke="#111" stroke-width="0.1" transform="rotate(0.05 427.40 299.50)">Log rank P-value: &lt;0.001</text>
<line x1="301.30" y1="290.00" x2="301.30" y2="439.00" stroke="#1a1a1a" stroke-width="1.4"/>
<line x1="300.60" y1="438.30" x2="512.70" y2="438.30" stroke="#1a1a1a" stroke-width="1.4"/>
<line x1="298.10" y1="292.70" x2="301.30" y2="292.70" stroke="#1a1a1a" stroke-width="1.1"/>
<text x="286.60" y="295.25" font-size="7.5" textLength="8.60" lengthAdjust="spacingAndGlyphs" fill="#111" stroke="#111" stroke-width="0.2" transform="rotate(0.05 286.60 295.25)">1.0</text>
<line x1="298.10" y1="306.94" x2="301.30" y2="306.94" stroke="#1a1a1a" stroke-width="1.1"/>
<text x="285.70" y="309.50" font-size="7.5" textLength="9.50" lengthAdjust="spacingAndGlyphs" fill="#111" stroke="#111" stroke-width="0.2" transform="rotate(0.05 285.70 309.50)">0.9</text>
<line x1="298.10" y1="321.18" x2="301.30" y2="321.18" stroke="#1a1a1a" stroke-width="1.1"/>
<text x="285.70" y="323.75" font-size="7.5" textLength="9.50" lengthAdjust="spacingAndGlyphs" fill="#111" stroke="#111" stroke-width="0.2" transform="rotate(0.05 285.70 323.75)">0.8</text>
<line x1="298.10" y1="335.42" x2="301.30" y2="335.42" stroke="#1a1a1a" stroke-width="1.1"/>
<text x="285.70" y="337.75" font-size="7.5" textLength="9.50" lengthAdjust="spacingAndGlyphs" fill="#111" stroke="#111" stroke-width="0.2" transform="rotate(0.05 285.70 337.75)">0.7</text>
<line x1="298.10" y1="349.66" x2="301.30" y2="349.66" stroke="#1a1a1a" stroke-width="1.1"/>
<text x="285.70" y="352.00" font-size="7.5" textLength="9.50" lengthAdjust="spacingAndGlyphs" fill="#111" stroke="#111" stroke-width="0.2" transform="rotate(0.05 285.70 352.00)">0.6</text>
<line x1="298.10" y1="363.90" x2="301.30" y2="363.90" stroke="#1a1a1a" stroke-width="1.1"/>
<text x="285.70" y="366.25" font-size="7.5" textLength="9.50" lengthAdjust="spacingAndGlyphs" fill="#111" stroke="#111" stroke-width="0.2" transform="rotate(0.05 285.70 366.25)">0.5</text>
<line x1="298.10" y1="378.14" x2="301.30" y2="378.14" stroke="#1a1a1a" stroke-width="1.1"/>
<text x="285.70" y="380.50" font-size="7.5" textLength="9.50" lengthAdjust="spacingAndGlyphs" fill="#111" stroke="#111" stroke-width="0.2" transform="rotate(0.05 285.70 380.50)">0.4</text>
<line x1="298.10" y1="392.38" x2="301.30" y2="392.38" stroke="#1a1a1a" stroke-width="1.1"/>
<text x="285.70" y="394.75" font-size="7.5" textLength="9.50" lengthAdjust="spacingAndGlyphs" fill="#111" stroke="#111" stroke-width="0.2" transform="rotate(0.05 285.70 394.75)">0.3</text>
<line x1="298.10" y1="406.62" x2="301.30" y2="406.62" stroke="#1a1a1a" stroke-width="1.1"/>
<text x="285.70" y="409.00" font-size="7.5" textLength="9.50" lengthAdjust="spacingAndGlyphs" fill="#111" stroke="#111" stroke-width="0.2" transform="rotate(0.05 285.70 409.00)">0.2</text>
<line x1="298.10" y1="420.86" x2="301.30" y2="420.86" stroke="#1a1a1a" stroke-width="1.1"/>
<text x="285.70" y="423.25" font-size="7.5" textLength="9.50" lengthAdjust="spacingAndGlyphs" fill="#111" stroke="#111" stroke-width="0.2" transform="rotate(0.05 285.70 423.25)">0.1</text>
<line x1="298.10" y1="435.10" x2="301.30" y2="435.10" stroke="#1a1a1a" stroke-width="1.1"/>
<text x="285.70" y="437.50" font-size="7.5" textLength="9.50" lengthAdjust="spacingAndGlyphs" fill="#111" stroke="#111" stroke-width="0.2" transform="rotate(0.05 285.70 437.50)">0.0</text>
<line x1="308.50" y1="438.30" x2="308.50" y2="441.60" stroke="#1a1a1a" stroke-width="1.1"/>
<text x="306.40" y="451.00" font-size="7.0" textLength="4.20" lengthAdjust="spacingAndGlyphs" fill="#111" stroke="#111" stroke-width="0.2" transform="rotate(0.05 306.40 451.00)">0</text>
<line x1="347.70" y1="438.30" x2="347.70" y2="441.60" stroke="#1a1a1a" stroke-width="1.1"/>
<text x="344.05" y="451.00" font-size="7.0" textLength="7.30" lengthAdjust="spacingAndGlyphs" fill="#111" stroke="#111" stroke-width="0.2" transform="rotate(0.05 344.05 451.00)">12</text>
<line x1="387.10" y1="438.30" x2="387.10" y2="441.60" stroke="#1a1a1a" stroke-width="1.1"/>
<text x="383.45" y="451.00" font-size="7.0" textLength="7.30" lengthAdjust="spacingAndGlyphs" fill="#111" stroke="#111" stroke-width="0.2" transform="rotate(0.05 383.45 451.00)">24</text>
<line x1="426.70" y1="438.30" x2="426.70" y2="441.60" stroke="#1a1a1a" stroke-width="1.1"/>
<text x="423.05" y="451.00" font-size="7.0" textLength="7.30" lengthAdjust="spacingAndGlyphs" fill="#111" stroke="#111" stroke-width="0.2" transform="rotate(0.05 423.05 451.00)">36</text>
<line x1="466.20" y1="438.30" x2="466.20" y2="441.60" stroke="#1a1a1a" stroke-width="1.1"/>
<text x="462.55" y="451.00" font-size="7.0" textLength="7.30" lengthAdjust="spacingAndGlyphs" fill="#111" stroke="#111" stroke-width="0.2" transform="rotate(0.05 462.55 451.00)">48</text>
<line x1="505.60" y1="438.30" x2="505.60" y2="441.60" stroke="#1a1a1a" stroke-width="1.1"/>
<text x="501.95" y="451.00" font-size="7.0" textLength="7.30" lengthAdjust="spacingAndGlyphs" fill="#111" stroke="#111" stroke-width="0.2" transform="rotate(0.05 501.95 451.00)">60</text>
<text x="0" y="0" font-size="9.4" textLength="44.2" lengthAdjust="spacingAndGlyphs" fill="#111" stroke="#111" stroke-width="0.25" transform="translate(279.10,381.50) rotate(-89.95)">Probability</text>
<text x="358.80" y="464.75" font-size="10.0" textLength="96.20" lengthAdjust="spacingAndGlyphs" fill="#111" stroke="#111" stroke-width="0.3" transform="rotate(0.05 358.80 464.75)">Months from transplant</text>
<text x="268.10" y="477.00" font-size="6.6" textLength="34.60" lengthAdjust="spacingAndGlyphs" fill="#111" stroke="#111" stroke-width="0.2" transform="rotate(0.05 268.10 477.00)">Intermediate</text>
<text x="304.40" y="477.00" font-size="6.6" textLength="7.00" lengthAdjust="spacingAndGlyphs" fill="#111" stroke="#111" stroke-width="0.2" transform="rotate(0.05 304.40 477.00)">11</text>
<text x="345.35" y="477.00" font-size="6.6" textLength="3.50" lengthAdjust="spacingAndGlyphs" fill="#111" stroke="#111" stroke-width="0.2" transform="rotate(0.05 345.35 477.00)">9</text>
<text x="384.75" y="477.00" font-size="6.6" textLength="3.50" lengthAdjust="spacingAndGlyphs" fill="#111" stroke="#111" stroke-width="0.2" transform="rotate(0.05 384.75 477.00)">7</text>
<text x="424.35" y="477.00" font-size="6.6" textLength="3.50" lengthAdjust="spacingAndGlyphs" fill="#111" stroke="#111" stroke-width="0.2" transform="rotate(0.05 424.35 477.00)">7</text>
<text x="463.85" y="477.00" font-size="6.6" textLength="3.50" lengthAdjust="spacingAndGlyphs" fill="#111" stroke="#111" stroke-width="0.2" transform="rotate(0.05 463.85 477.00)">7</text>
<text x="503.25" y="477.00" font-size="6.6" textLength="3.50" lengthAdjust="spacingAndGlyphs" fill="#111" stroke="#111" stroke-width="0.2" transform="rotate(0.05 503.25 477.00)">5</text>
<text x="268.10" y="489.00" font-size="6.6" textLength="12.90" lengthAdjust="spacingAndGlyphs" fill="#111" stroke="#111" stroke-width="0.2" transform="rotate(0.05 268.10 489.00)">High</text>
<text x="304.40" y="489.00" font-size="6.6" textLength="7.00" lengthAdjust="spacingAndGlyphs" fill="#111" stroke="#111" stroke-width="0.2" transform="rotate(0.05 304.40 489.00)">47</text>
<text x="343.60" y="489.00" font-size="6.6" textLength="7.00" lengthAdjust="spacingAndGlyphs" fill="#111" stroke="#111" stroke-width="0.2" transform="rotate(0.05 343.60 489.00)">38</text>
<text x="383.00" y="489.00" font-size="6.6" textLength="7.00" lengthAdjust="spacingAndGlyphs" fill="#111" stroke="#111" stroke-width="0.2" transform="rotate(0.05 383.00 489.00)">33</text>
<text x="422.60" y="489.00" font-size="6.6" textLength="7.00" lengthAdjust="spacingAndGlyphs" fill="#111" stroke="#111" stroke-width="0.2" transform="rotate(0.05 422.60 489.00)">29</text>
<text x="462.10" y="489.00" font-size="6.6" textLength="7.00" lengthAdjust="spacingAndGlyphs" fill="#111" stroke="#111" stroke-width="0.2" transform="rotate(0.05 462.10 489.00)">25</text>
<text x="501.50" y="489.00" font-size="6.6" textLength="7.00" lengthAdjust="spacingAndGlyphs" fill="#111" stroke="#111" stroke-width="0.2" transform="rotate(0.05 501.50 489.00)">20</text>
<text x="268.10" y="501.25" font-size="6.6" textLength="26.50" lengthAdjust="spacingAndGlyphs" fill="#111" stroke="#111" stroke-width="0.2" transform="rotate(0.05 268.10 501.25)">Very High</text>
<text x="304.40" y="501.25" font-size="6.6" textLength="7.00" lengthAdjust="spacingAndGlyphs" fill="#111" stroke="#111" stroke-width="0.2" transform="rotate(0.05 304.40 501.25)">35</text>
<text x="343.60" y="501.25" font-size="6.6" textLength="7.00" lengthAdjust="spacingAndGlyphs" fill="#111" stroke="#111" stroke-width="0.2" transform="rotate(0.05 343.60 501.25)">16</text>
<text x="383.00" y="501.25" font-size="6.6" textLength="7.00" lengthAdjust="spacingAndGlyphs" fill="#111" stroke="#111" stroke-width="0.2" transform="rotate(0.05 383.00 501.25)">11</text>
<text x="424.35" y="501.25" font-size="6.6" textLength="3.50" lengthAdjust="spacingAndGlyphs" fill="#111" stroke="#111" stroke-width="0.2" transform="rotate(0.05 424.35 501.25)">8</text>
<text x="463.85" y="501.25" font-size="6.6" textLength="3.50" lengthAdjust="spacingAndGlyphs" fill="#111" stroke="#111" stroke-width="0.2" transform="rotate(0.05 463.85 501.25)">6</text>
<text x="503.25" y="501.25" font-size="6.6" textLength="3.50" lengthAdjust="spacingAndGlyphs" fill="#111" stroke="#111" stroke-width="0.2" transform="rotate(0.05 503.25 501.25)">6</text>
<text x="332.80" y="403.00" font-size="6.0" textLength="40.30" lengthAdjust="spacingAndGlyphs" fill="#111" stroke="#111" stroke-width="0.16" transform="rotate(0.05 332.80 403.00)">MIPSS70+ V2.0</text>
<text x="383.50" y="403.00" font-size="6.0" textLength="29.40" lengthAdjust="spacingAndGlyphs" fill="#111" stroke="#111" stroke-width="0.16" transform="rotate(0.05 383.50 403.00)">Time-Point</text>
<text x="423.80" y="403.00" font-size="6.0" textLength="42.20" lengthAdjust="spacingAndGlyphs" fill="#111" stroke="#111" stroke-width="0.16" transform="rotate(0.05 423.80 403.00)">KM est (95% CI)</text>
<text x="335.80" y="411.50" font-size="6.0" textLength="35.00" lengthAdjust="spacingAndGlyphs" fill="#111" stroke="#111" stroke-width="0.16" transform="rotate(0.05 335.80 411.50)">Intermediate</text>
<text x="383.50" y="411.50" font-size="6.0" textLength="29.00" lengthAdjust="spacingAndGlyphs" fill="#111" stroke="#111" stroke-width="0.16" transform="rotate(0.05 383.50 411.50)">60 months</text>
<text x="423.80" y="411.50" font-size="6.0" textLength="42.20" lengthAdjust="spacingAndGlyphs" fill="#111" stroke="#111" stroke-width="0.16" transform="rotate(0.05 423.80 411.50)">0.91 (0.51-0.99)</text>
<text x="335.80" y="420.25" font-size="6.0" textLength="12.70" lengthAdjust="spacingAndGlyphs" fill="#111" stroke="#111" stroke-width="0.16" transform="rotate(0.05 335.80 420.25)">High</text>
<text x="383.50" y="420.25" font-size="6.0" textLength="29.00" lengthAdjust="spacingAndGlyphs" fill="#111" stroke="#111" stroke-width="0.16" transform="rotate(0.05 383.50 420.25)">60 months</text>
<text x="423.80" y="420.25" font-size="6.0" textLength="42.20" lengthAdjust="spacingAndGlyphs" fill="#111" stroke="#111" stroke-width="0.16" transform="rotate(0.05 423.80 420.25)">0.71 (0.55-0.82)</text>
<text x="335.80" y="429.00" font-size="6.0" textLength="26.20" lengthAdjust="spacingAndGlyphs" fill="#111" stroke="#111" stroke-width="0.16" transform="rotate(0.05 335.80 429.00)">Very High</text>
<text x="383.50" y="429.00" font-size="6.0" textLength="29.00" lengthAdjust="spacingAndGlyphs" fill="#111" stroke="#111" stroke-width="0.16" transform="rotate(0.05 383.50 429.00)">60 months</text>
<text x="423.80" y="429.00" font-size="6.0" textLength="42.20" lengthAdjust="spacingAndGlyphs" fill="#111" stroke="#111" stroke-width="0.16" transform="rotate(0.05 423.80 429.00)">0.28 (0.13-0.45)</text>
<text x="439.70" y="435.75" font-size="6.0" textLength="24.20" lengthAdjust="spacingAndGlyphs" fill="#111" stroke="#111" stroke-width="0.16" transform="rotate(0.05 439.70 435.75)">+ Censor</text>
<line x1="318.50" y1="410.00" x2="332.80" y2="410.00" stroke="#b3184a" stroke-width="1.5"/>
<path d="M318.5,418.5H332.8" stroke="#1f4080" stroke-width="1.35" stroke-dasharray="3.3 2.2" fill="none"/>
<path d="M318.5,426.6H332.8" stroke="#6ab84a" stroke-width="1.35" stroke-dasharray="3.3 2.2" fill="none"/>
<path d="M307.9,292.8H312.2V305.5H507" fill="none" stroke="#b3184a" stroke-width="1.45"/>
<path d="M348.00,303.90v3.2M358.90,303.90v3.2M466.60,303.90v3.2M491.80,303.90v3.2M507.00,303.90v3.2" stroke="#b3184a" stroke-width="1.1" fill="none"/>
<path d="M307.9,292.8L311,294L312.5,297L313.5,302L315,305L317,308L319,310L320.5,313L321,314.4H331.2L332,316L333,317H336L337,320L338,320.6H374.6V326.9H412.3V329.7H441.5V334H507" fill="none" stroke="#1f4080" stroke-width="1.35" stroke-dasharray="3.4 2.2"/>
<path d="M346.60,320.60h2.8M350.60,320.60h2.8M389.40,326.90h2.8M393.20,326.90h2.8M404.60,326.90h2.8M406.60,326.90h2.8M409.10,326.90h2.8M426.30,329.70h2.8M428.60,329.70h2.8M460.10,334.00h2.8M466.30,334.00h2.8M482.40,334.00h2.8M488.60,334.00h2.8M495.50,334.00h2.8M499.40,334.00h2.8M504.80,334.00h2.8" stroke="#1f4080" stroke-width="1.22" fill="none"/>
<path d="M348.00,319.00v3.2M352.00,319.00v3.2M390.80,325.30v3.2M394.60,325.30v3.2M406.00,325.30v3.2M408.00,325.30v3.2M410.50,325.30v3.2M427.70,328.10v3.2M430.00,328.10v3.2M461.50,332.40v3.2M467.70,332.40v3.2M483.80,332.40v3.2M490.00,332.40v3.2M496.90,332.40v3.2M500.80,332.40v3.2M506.20,332.40v3.2" stroke="#1f4080" stroke-width="1.1" fill="none"/>
<path d="M307.9,292.8L309,297L310,302L311,308L312,314L313,320L314.5,326L316,328.6H318L318.5,335L319,345L319.5,352L320,357L321,360L322,363L323,366L324,368L325,370H367.9V375H411.5V381.9H429.4V385.8H433.3V389.6H435.5V395.2H507" fill="none" stroke="#6ab84a" stroke-width="1.65" stroke-dasharray="3.5 2"/>
<path d="M347.30,370.00h2.8M349.90,370.00h2.8M360.70,370.00h2.8M384.80,375.00h2.8M401.10,375.00h2.8M430.60,385.80h2.8M505.60,395.20h2.8" stroke="#6ab84a" stroke-width="1.48" fill="none"/>
<path d="M348.70,368.40v3.2M351.30,368.40v3.2M362.10,368.40v3.2M386.20,373.40v3.2M402.50,373.40v3.2M432.00,384.20v3.2M507.00,393.60v3.2" stroke="#6ab84a" stroke-width="1.1" fill="none"/>
<rect x="0" y="1" width="520" height="1" fill="#b0b0b0"/><rect x="1" y="0" width="1" height="510" fill="#888"/><rect x="518" y="0" width="1" height="510" fill="#a0a0a0"/><rect x="0" y="508" width="520" height="1" fill="#7d7d7d"/>
<rect x="0" y="0" width="520" height="1" fill="#111"/><rect x="0" y="0" width="1" height="510" fill="#333"/><rect x="519" y="0" width="1" height="510" fill="#000"/><rect x="0" y="509" width="520" height="1" fill="#1e1e1e"/>
</svg></body></html>
